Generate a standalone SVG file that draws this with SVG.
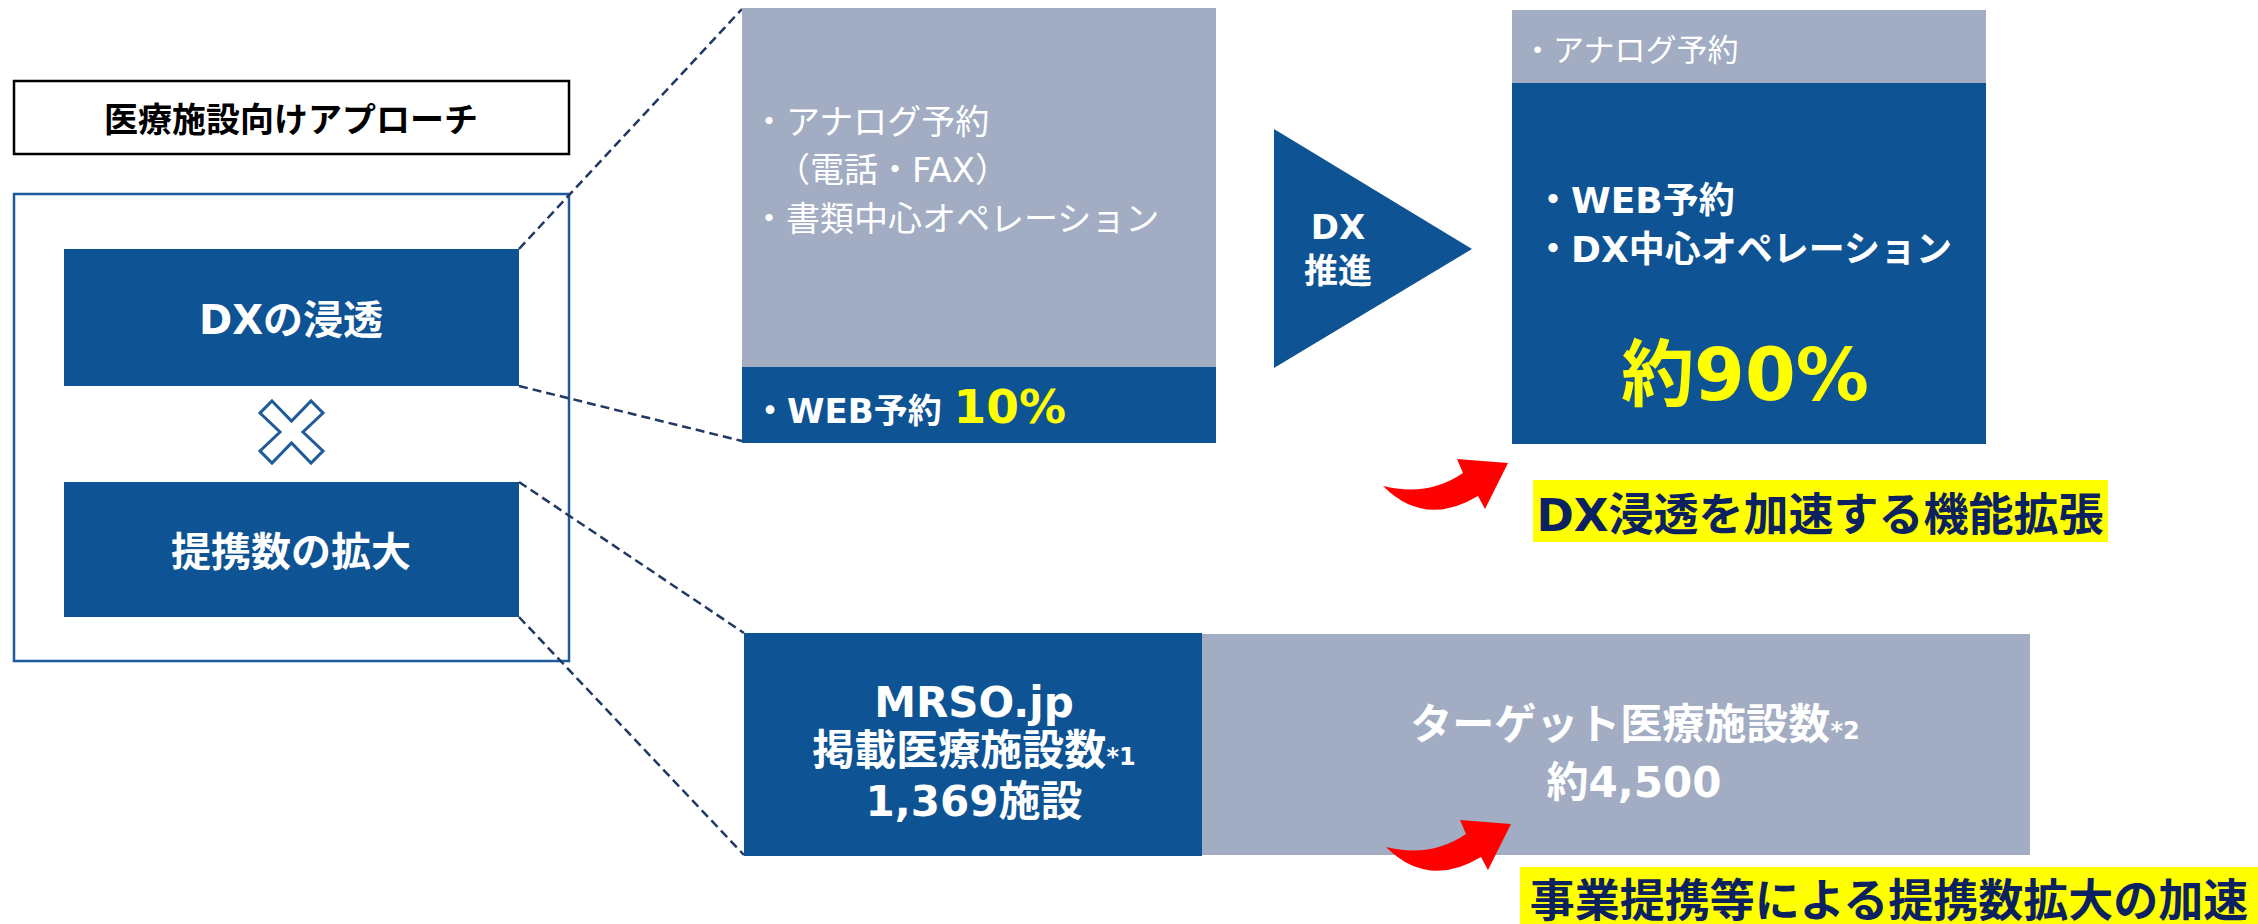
<svg xmlns="http://www.w3.org/2000/svg" width="2258" height="924" viewBox="0 0 2258 924">
<style>
.t{font-family:"DejaVu Sans","Noto Sans CJK JP",sans-serif}
.b{font-weight:bold}
.w{fill:#FFFFFF}
.y{fill:#FFFF00}
.n{fill:#0C2260}
.blue{fill:#0E5394}
.gray{fill:#A2ADC4}
.dash{fill:none;stroke:#1F3864;stroke-width:2.5;stroke-dasharray:9 5}
</style>
<defs>
<path id="redArrow" d="M1383,486 Q1428,497 1463,473 L1457,459 L1508,463 L1485,509 L1478,496 Q1425,528 1383,486 Z" fill="#FF0000"/>
</defs>
<rect width="2258" height="924" fill="#FFFFFF"/>

<g id="title">
<rect x="14" y="81" width="555" height="73" fill="#FFFFFF" stroke="#000000" stroke-width="2.5"/>
<text x="291" y="132" class="t b" font-size="34" text-anchor="middle" fill="#000000">医療施設向けアプローチ</text>
</g>

<g id="approach-frame">
<rect x="14" y="194" width="555" height="467" fill="none" stroke="#1F5A9A" stroke-width="2.5"/>
</g>

<g id="dx-penetration">
<rect x="64" y="249" width="455" height="137" class="blue"/>
<text x="291" y="334" class="t b w" font-size="40" text-anchor="middle">DXの浸透</text>
</g>

<g id="times">
<polygon points="272,401 291.5,421 311,401 323,413 303,432 323,451 311,463 291.5,443 272,463 260,451 280,432 260,413" fill="#FFFFFF" stroke="#1F5A9A" stroke-width="3" stroke-linejoin="miter"/>
</g>

<g id="partner-expansion">
<rect x="64" y="482" width="455" height="135" class="blue"/>
<text x="291" y="566" class="t b w" font-size="40" text-anchor="middle">提携数の拡大</text>
</g>

<g id="connectors">
<line x1="519" y1="249" x2="742" y2="9" class="dash"/>
<line x1="519" y1="386" x2="742" y2="441" class="dash"/>
<line x1="519" y1="482" x2="744" y2="633" class="dash"/>
<line x1="519" y1="617" x2="744" y2="855" class="dash"/>
</g>

<g id="current-status">
<rect x="742" y="8" width="474" height="359" class="gray"/>
<rect x="742" y="367" width="474" height="76" class="blue"/>
<text class="t w" font-size="34"><tspan x="752" y="134">・アナログ予約</tspan><tspan x="776" y="182">（電話・FAX）</tspan><tspan x="752" y="231">・書類中心オペレーション</tspan></text>
<text x="753" y="423" class="t b w" font-size="34">・WEB予約 <tspan class="y" font-size="47">10%</tspan></text>
</g>

<g id="dx-promotion">
<polygon points="1274,129 1472,249 1274,368" class="blue"/>
<text x="1338" y="239" class="t b w" font-size="34" text-anchor="middle">DX</text>
<text x="1338" y="283" class="t b w" font-size="34" text-anchor="middle">推進</text>
</g>

<g id="future-status">
<rect x="1512" y="10" width="474" height="73" class="gray"/>
<rect x="1512" y="83" width="474" height="361" class="blue"/>
<text x="1522" y="61" class="t w" font-size="31">・アナログ予約</text>
<text x="1535" y="213" class="t b w" font-size="36">・WEB予約</text>
<text x="1535" y="262" class="t b w" font-size="36">・DX中心オペレーション</text>
<text x="1745" y="400" class="t b y" font-size="73" text-anchor="middle">約90%</text>
</g>

<g id="dx-accel">
<use href="#redArrow"/>
<rect x="1533" y="480" width="575" height="62" fill="#FFFF00"/>
<text x="1820" y="531" class="t b n" font-size="45" text-anchor="middle">DX浸透を加速する機能拡張</text>
</g>

<g id="mrso-count">
<rect x="744" y="633" width="458" height="223" class="blue"/>
<text x="974" y="717" class="t b w" font-size="42" text-anchor="middle">MRSO.jp</text>
<text x="974" y="765" class="t b w" font-size="42" text-anchor="middle">掲載医療施設数<tspan font-size="24">*1</tspan></text>
<text x="974" y="816" class="t b w" font-size="42" text-anchor="middle">1,369施設</text>
</g>

<g id="target-count">
<rect x="1202" y="634" width="828" height="221" class="gray"/>
<text x="1635" y="739" class="t b w" font-size="42" text-anchor="middle">ターゲット医療施設数<tspan font-size="24">*2</tspan></text>
<text x="1634" y="797" class="t b w" font-size="42" text-anchor="middle">約4,500</text>
</g>

<g id="partner-accel">
<use href="#redArrow" transform="translate(3,361)"/>
<rect x="1520" y="867" width="738" height="57" fill="#FFFF00"/>
<text x="1889" y="917" class="t b n" font-size="45" text-anchor="middle">事業提携等による提携数拡大の加速</text>
</g>
</svg>
